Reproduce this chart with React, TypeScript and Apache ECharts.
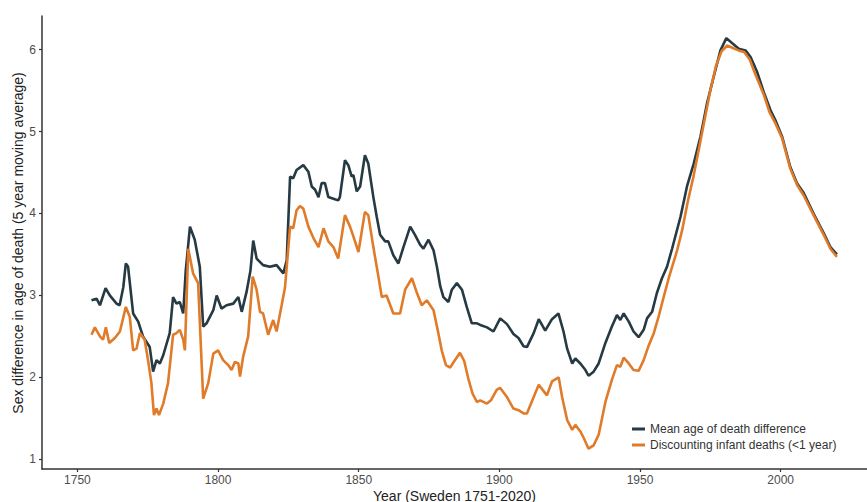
import React, { useEffect, useRef } from "react";
import * as echarts from "echarts";

const meanYears = [1755,1756.8,1758,1760,1761.5,1763.9,1765,1766.3,1767.2,1768,1769.8,1771.6,1773.3,1775.7,1776.9,1778.1,1779.3,1780.5,1782.8,1784,1785.2,1786.4,1787.6,1788.5,1790,1791.7,1793.5,1794.7,1795.9,1798.3,1799.5,1801.2,1803,1805.4,1807.2,1808.4,1810.1,1811.5,1812.5,1813.7,1816,1818.4,1820.8,1823.2,1824.4,1825.6,1826.7,1827.9,1830.3,1832.1,1833.3,1834.5,1835.7,1836.8,1838,1839.2,1841,1842.7,1843.3,1845.1,1846.3,1847.5,1848.1,1849.3,1850.5,1852.2,1853.4,1855.2,1856.4,1857.6,1859.4,1860.5,1862.3,1864.1,1865.9,1868.3,1870,1871.8,1873,1874.8,1876.6,1877.8,1879,1880.1,1881.9,1883.1,1884.9,1886.7,1888.4,1890.2,1892,1893.2,1895.6,1897.9,1900.3,1902.7,1905,1906.8,1908.6,1909.8,1912.2,1914,1916.3,1918.7,1921,1922.8,1924.1,1925.9,1927,1928.8,1930.6,1931.7,1933.5,1935.3,1937.7,1940,1941.8,1943,1944.2,1946,1947.7,1949.5,1951.3,1952.5,1954.3,1956,1957.8,1959.6,1961.4,1964.4,1966.7,1969.1,1971.5,1973.8,1976.2,1978.6,1980.7,1982.7,1985.1,1987.5,1989.3,1991.6,1994,1996.4,1998.1,2000.5,2003.4,2005.8,2008.2,2011.7,2015.3,2017.7,2020];
const meanValues = [2.94,2.96,2.88,3.09,3.0,2.9,2.88,3.1,3.39,3.35,2.78,2.68,2.5,2.37,2.07,2.21,2.17,2.27,2.54,2.98,2.9,2.92,2.78,3.3,3.84,3.68,3.35,2.62,2.66,2.82,3.0,2.84,2.88,2.9,2.98,2.8,3.04,3.3,3.67,3.45,3.37,3.35,3.37,3.27,3.43,4.45,4.43,4.53,4.59,4.51,4.33,4.29,4.2,4.37,4.37,4.2,4.18,4.16,4.2,4.65,4.59,4.45,4.47,4.27,4.33,4.71,4.61,4.2,3.96,3.74,3.66,3.66,3.49,3.39,3.59,3.84,3.74,3.62,3.57,3.68,3.55,3.35,3.11,2.98,2.92,3.07,3.15,3.07,2.86,2.66,2.66,2.64,2.61,2.56,2.72,2.65,2.53,2.48,2.38,2.37,2.54,2.71,2.57,2.71,2.78,2.56,2.35,2.17,2.23,2.17,2.09,2.02,2.07,2.17,2.42,2.62,2.76,2.7,2.78,2.68,2.56,2.49,2.58,2.72,2.8,3.03,3.21,3.35,3.57,3.96,4.33,4.61,4.94,5.34,5.67,5.99,6.14,6.08,6.01,5.99,5.91,5.73,5.48,5.26,5.14,4.94,4.57,4.37,4.25,4.0,3.76,3.59,3.5];

const infantYears = [1755,1756.2,1758,1759.1,1760.1,1761.3,1763.3,1765.1,1767.2,1768.6,1769.8,1771,1772.2,1773.9,1775.1,1776.3,1777.2,1778.1,1779,1780.5,1782.2,1784,1785.2,1786.4,1787.6,1788.2,1789.4,1791.1,1792.9,1794.7,1796.5,1798.3,1800,1801.8,1803.6,1804.8,1806,1807.2,1807.8,1808.9,1810.7,1812.3,1813.7,1814.9,1816,1817.8,1819.6,1820.8,1822.6,1823.8,1825.6,1826.7,1827.9,1829.1,1830.3,1832.1,1833.9,1835.7,1837.5,1839.2,1841,1842.7,1845.1,1846.9,1848.1,1849.9,1852.2,1853.4,1855.2,1857,1858.2,1859.9,1862.3,1864.7,1866.5,1868.9,1870.6,1872.4,1874.2,1876.6,1878.3,1879.5,1881,1882.5,1884,1886,1887.5,1889,1890.5,1892,1893.2,1895.6,1897,1899.1,1900.3,1902.7,1905,1906.8,1908.6,1909.8,1912.2,1914,1916.9,1918.7,1921.1,1922.3,1924.1,1925.9,1927,1928.8,1930,1931.7,1933.5,1935.3,1937.7,1940,1941.8,1943,1944.2,1946,1947.7,1949.5,1951.3,1953.1,1954.9,1956.6,1958.4,1960.2,1963.2,1965,1967,1969,1971,1973,1975,1977,1979,1981,1983,1985,1987,1989,1991,1994,1996,1998,2000.5,2003.4,2005.8,2008.2,2011.7,2015.3,2017.7,2020];
const infantValues = [2.52,2.61,2.5,2.46,2.61,2.42,2.48,2.56,2.86,2.74,2.33,2.35,2.54,2.46,2.21,1.93,1.54,1.62,1.54,1.68,1.93,2.52,2.54,2.58,2.46,2.33,3.57,3.27,3.15,1.74,1.93,2.29,2.33,2.21,2.15,2.09,2.19,2.17,2.01,2.25,2.5,3.23,3.07,2.8,2.78,2.52,2.7,2.56,2.88,3.1,3.84,3.82,4.04,4.09,4.06,3.84,3.7,3.59,3.82,3.66,3.59,3.45,3.98,3.84,3.72,3.53,4.02,3.98,3.59,3.23,2.98,3.0,2.78,2.78,3.07,3.21,3.04,2.88,2.94,2.82,2.54,2.33,2.15,2.12,2.2,2.3,2.2,1.98,1.8,1.7,1.72,1.68,1.72,1.85,1.87,1.76,1.62,1.6,1.56,1.56,1.76,1.91,1.78,1.95,2.0,1.76,1.48,1.36,1.42,1.34,1.26,1.13,1.17,1.3,1.7,1.97,2.15,2.13,2.24,2.17,2.09,2.08,2.21,2.39,2.54,2.74,2.98,3.21,3.55,3.8,4.15,4.45,4.8,5.15,5.5,5.8,5.98,6.05,6.02,5.99,5.97,5.88,5.7,5.45,5.24,5.11,4.92,4.55,4.35,4.22,3.98,3.74,3.57,3.47];

const xTicks = [1750, 1800, 1850, 1900, 1950, 2000];
const yTicks = [1, 2, 3, 4, 5, 6];
const seriesNames = ["Mean age of death difference", "Discounting infant deaths (<1 year)"];
const xTitle = "Year (Sweden 1751-2020)";
const yTitle = "Sex difference in age of death (5 year moving average)";

const FONT = "'Liberation Sans', Arial, sans-serif";

export default function App() {
  const ref = useRef<HTMLDivElement>(null);
  useEffect(() => {
    if (!ref.current) return;
    const chart = echarts.init(ref.current, null, { renderer: "svg" });
    const meanData = meanYears.map((y, i) => [y, meanValues[i]]);
    const infantData = infantYears.map((y, i) => [y, infantValues[i]]);
    chart.setOption({
      animation: false,
      backgroundColor: "#ffffff",
      textStyle: { fontFamily: FONT },
      grid: { left: 42, right: 0, top: 16, bottom: 33, containLabel: false, outerBoundsMode: "none" },
      graphic: [
        {
          type: "text",
          x: 18,
          y: 243,
          rotation: Math.PI / 2,
          style: {
            text: yTitle,
            fontFamily: FONT,
            fontSize: 14,
            fill: "#222222",
            align: "center",
            verticalAlign: "middle",
          },
        },
      ],
      legend: {
        orient: "vertical",
        left: 627,
        top: 418,
        itemWidth: 13,
        itemHeight: 3,
        itemGap: 4,
        icon: "rect",
        textStyle: { fontFamily: FONT, fontSize: 12, color: "#333333", lineHeight: 12, padding: [0, 0, 0, 0] },
        data: seriesNames,
      },
      xAxis: {
        type: "value",
        min: 1737.4,
        max: 2030.7,
        name: xTitle,
        nameLocation: "middle",
        nameGap: 20,
        nameMoveOverlap: false,
        nameTextStyle: { fontFamily: FONT, fontSize: 14, color: "#222222", width: 400, overflow: "none", verticalAlign: "top" },
        axisLine: { show: true, lineStyle: { color: "#333333", width: 1.5 } },
        axisTick: { show: true, length: 3, lineStyle: { color: "#333333", width: 1.2 }, customValues: xTicks },
        axisLabel: { fontFamily: FONT, fontSize: 12, color: "#4d4d4d", margin: 5, customValues: xTicks, formatter: (v: number) => String(v) },
        splitLine: { show: false },
      },
      yAxis: {
        type: "value",
        min: 0.882,
        max: 6.41,
        axisLine: { show: true, lineStyle: { color: "#333333", width: 1.5 } },
        axisTick: { show: true, length: 3, lineStyle: { color: "#333333", width: 1.2 }, customValues: yTicks },
        axisLabel: { fontFamily: FONT, fontSize: 12, color: "#4d4d4d", margin: 6, customValues: yTicks },
        splitLine: { show: false },
      },
      series: [
        {
          name: seriesNames[0],
          type: "line",
          data: meanData,
          showSymbol: false,
          symbol: "none",
          color: "#253a43",
          lineStyle: { color: "#253a43", width: 2.6 },
        },
        {
          name: seriesNames[1],
          type: "line",
          data: infantData,
          showSymbol: false,
          symbol: "none",
          color: "#e07b29",
          lineStyle: { color: "#e07b29", width: 2.6 },
        },
      ],
    });
    return () => chart.dispose();
  }, []);
  return (
    <div
      ref={ref}
      style={{ position: "absolute", left: 0, top: 0, width: 867, height: 502, background: "#fff" }}
    />
  );
}
